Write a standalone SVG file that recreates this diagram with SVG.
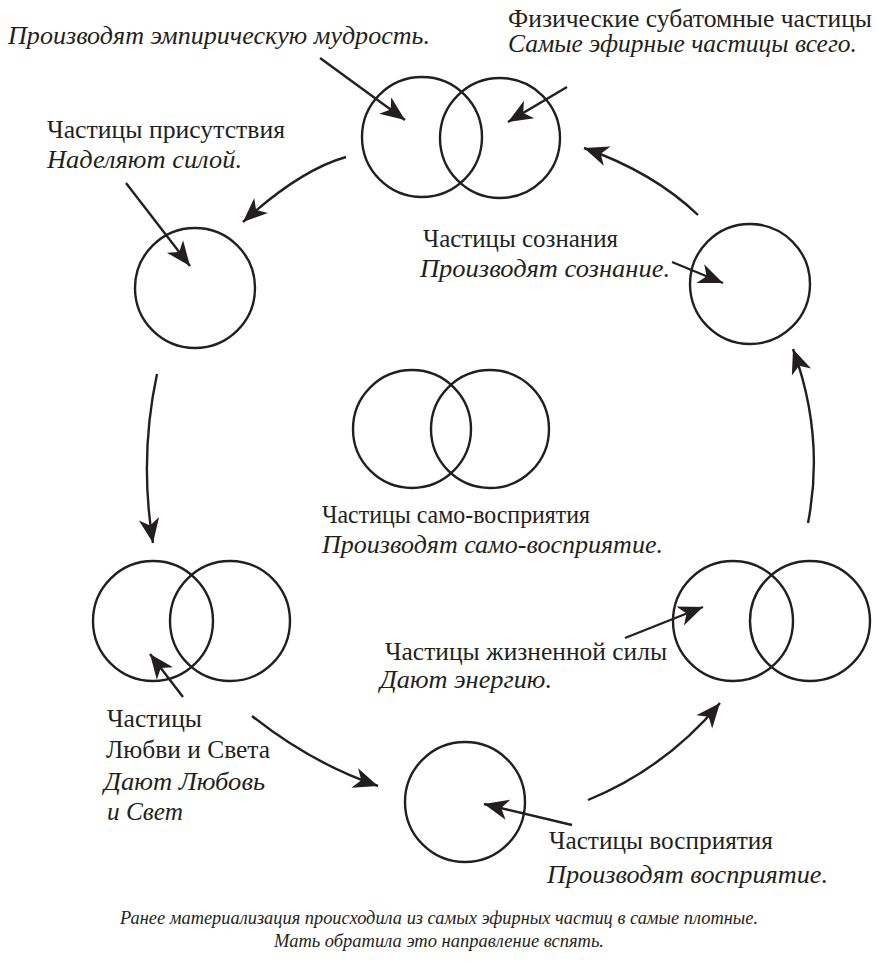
<svg xmlns="http://www.w3.org/2000/svg" width="878" height="964" viewBox="0 0 878 964">
<defs>
<marker id="ah" markerUnits="userSpaceOnUse" markerWidth="30" markerHeight="30" refX="0" refY="0" viewBox="-20 -10 22 20" orient="auto" overflow="visible">
<path d="M0,0 L-18,-7.5 L-13,0 L-18,7.5 Z" fill="#231f20"/>
</marker>
</defs>
<rect width="878" height="964" fill="#fff"/>

<g fill="none" stroke="#231f20" stroke-width="2.4">
<g id="node-subatomic-shape"><circle cx="422" cy="137" r="60"/><circle cx="500" cy="138" r="60"/></g>
<g id="node-presence-shape"><circle cx="195" cy="288" r="60"/></g>
<g id="node-consciousness-shape"><circle cx="750" cy="284" r="60"/></g>
<g id="node-self-perception-shape"><circle cx="412" cy="429" r="59"/><circle cx="490" cy="429" r="59"/></g>
<g id="node-love-light-shape"><circle cx="153" cy="621" r="60"/><circle cx="230" cy="621" r="60"/></g>
<g id="node-life-force-shape"><circle cx="733" cy="621" r="60"/><circle cx="810" cy="621" r="60"/></g>
<g id="node-perception-shape"><circle cx="465" cy="802" r="60"/></g>
</g>

<g font-family="Liberation Serif, DejaVu Serif, serif" font-size="25" fill="#231f20">
<g id="node-subatomic">
<text x="508" y="27" textLength="364" lengthAdjust="spacingAndGlyphs">Физические субатомные частицы</text>
<text font-style="italic" x="508" y="52" textLength="349" lengthAdjust="spacingAndGlyphs">Самые эфирные частицы всего.</text>
<text font-style="italic" x="8" y="44" textLength="422" lengthAdjust="spacingAndGlyphs">Производят эмпирическую мудрость.</text>
</g>
<g id="node-presence">
<text x="47" y="138" textLength="238" lengthAdjust="spacingAndGlyphs">Частицы присутствия</text>
<text font-style="italic" x="47" y="168" textLength="195" lengthAdjust="spacingAndGlyphs">Наделяют силой.</text>
</g>
<g id="node-consciousness">
<text x="423" y="247" textLength="195" lengthAdjust="spacingAndGlyphs">Частицы сознания</text>
<text font-style="italic" x="420" y="277" textLength="250" lengthAdjust="spacingAndGlyphs">Производят сознание.</text>
</g>
<g id="node-self-perception">
<text x="322" y="523" textLength="268" lengthAdjust="spacingAndGlyphs">Частицы само-восприятия</text>
<text font-style="italic" x="322" y="553" textLength="341" lengthAdjust="spacingAndGlyphs">Производят само-восприятие.</text>
</g>
<g id="node-love-light">
<text x="107" y="727" textLength="95" lengthAdjust="spacingAndGlyphs">Частицы</text>
<text x="106" y="758" textLength="164" lengthAdjust="spacingAndGlyphs">Любви и Света</text>
<text font-style="italic" x="104" y="790" textLength="161" lengthAdjust="spacingAndGlyphs">Дают Любовь</text>
<text font-style="italic" x="107" y="820" textLength="76" lengthAdjust="spacingAndGlyphs">и Свет</text>
</g>
<g id="node-life-force">
<text x="385" y="660" textLength="282" lengthAdjust="spacingAndGlyphs">Частицы жизненной силы</text>
<text font-style="italic" x="380" y="688" textLength="172" lengthAdjust="spacingAndGlyphs">Дают энергию.</text>
</g>
<g id="node-perception">
<text x="549" y="849" textLength="224" lengthAdjust="spacingAndGlyphs">Частицы восприятия</text>
<text font-style="italic" x="547" y="883" textLength="281" lengthAdjust="spacingAndGlyphs">Производят восприятие.</text>
</g>
<g id="caption" font-size="18.5" font-style="italic">
<text x="439" y="924" text-anchor="middle" textLength="638" lengthAdjust="spacingAndGlyphs">Ранее материализация происходила из самых эфирных частиц в самые плотные.</text>
<text x="439" y="947" text-anchor="middle">Мать обратила это направление вспять.</text>
</g>
</g>

<g id="connectors" fill="none" stroke="#231f20" stroke-width="2.4">
<path d="M346,157 Q300,170 243,222" marker-end="url(#ah)"/>
<path d="M157,374 Q139,458 153,543" marker-end="url(#ah)"/>
<path d="M252,716 Q311,763 378,786" marker-end="url(#ah)"/>
<path d="M588,800 Q666,768 720,703" marker-end="url(#ah)"/>
<path d="M808,523 Q825,436 793,349" marker-end="url(#ah)"/>
<path d="M698,215 Q653,172 584,148" marker-end="url(#ah)"/>
<path d="M320,58 L405,120" marker-end="url(#ah)"/>
<path d="M567,87 L508,122" marker-end="url(#ah)"/>
<path d="M126,183 L190,266" marker-end="url(#ah)"/>
<path d="M672,262 L723,283" marker-end="url(#ah)"/>
<path d="M183,697 L150,654" marker-end="url(#ah)"/>
<path d="M625,638 L703,607" marker-end="url(#ah)"/>
<path d="M572,825 L484,804" marker-end="url(#ah)"/>
</g>
</svg>
